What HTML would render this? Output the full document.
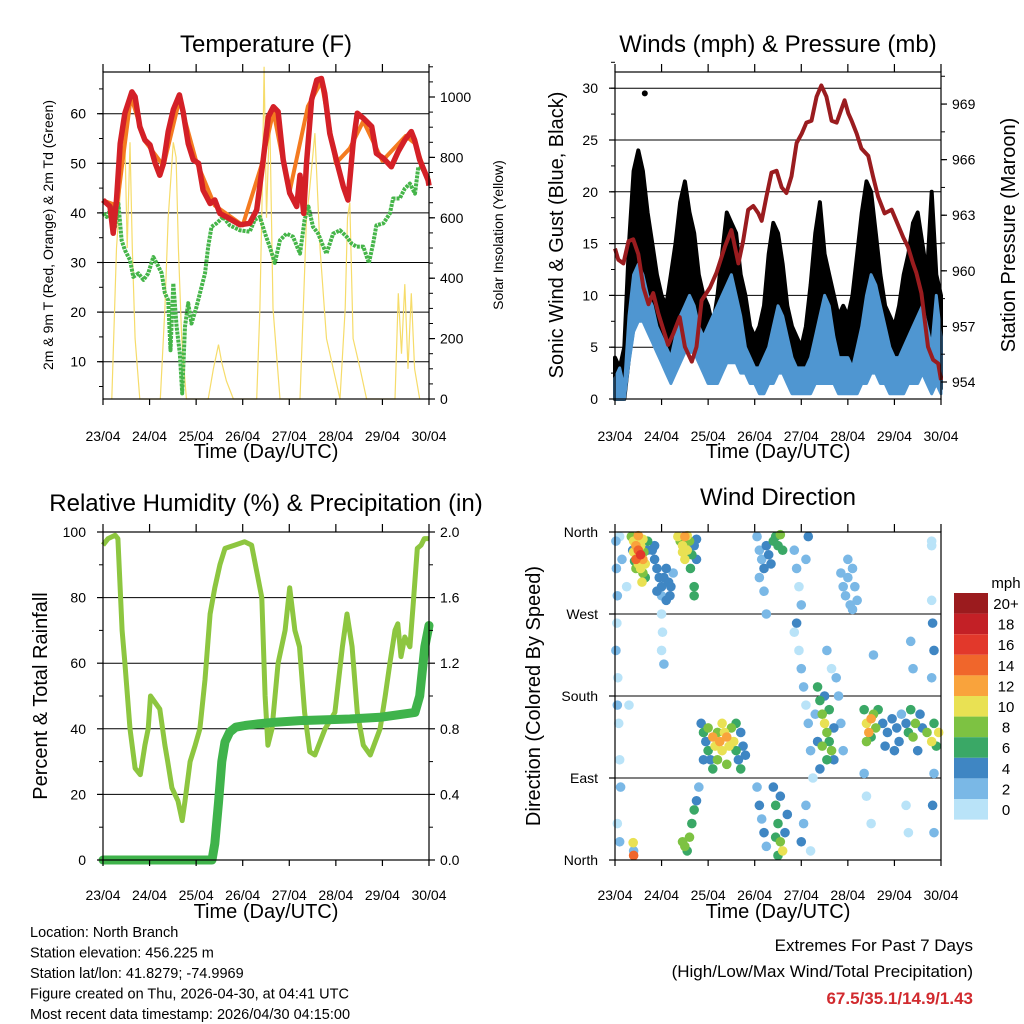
<!DOCTYPE html>
<html><head><meta charset="utf-8">
<style>
html,body{margin:0;padding:0;background:#fff;}
svg{display:block;font-family:"Liberation Sans",Arial,sans-serif;}
</style></head>
<body>
<svg id="chart" width="1024" height="1024" viewBox="0 0 1024 1024" xmlns="http://www.w3.org/2000/svg"></svg>
<script>
// ---------- DATA ----------
const dayLabels = ["23/04","24/04","25/04","26/04","27/04","28/04","29/04","30/04"];
// Temperature 2m (red)
const tempT = [0,0.15,0.22,0.29,0.37,0.47,0.62,0.69,0.79,0.90,1.01,1.12,1.22,1.30,1.40,1.51,1.64,1.72,1.83,1.94,2.05,2.15,2.30,2.40,2.51,2.65,2.94,3.15,3.30,3.44,3.55,3.66,3.76,3.87,4.01,4.16,4.23,4.31,4.37,4.48,4.59,4.69,4.76,4.87,5.01,5.16,5.26,5.37,5.46,5.59,5.77,5.87,6.02,6.19,6.34,6.48,6.62,6.69,6.80,6.98,7.0];
const tempV = [42.6,41.3,35.9,42.6,54.0,60.1,64.4,63.4,57.4,54.7,53.7,50.0,47.6,50.0,56.4,60.8,63.8,60.4,54.0,50.7,50.0,44.6,41.9,42.6,39.9,39.2,37.6,37.9,40.6,50.7,59.4,61.4,60.4,50.7,44.0,41.3,47.6,39.9,50.0,62.8,66.8,67.1,64.1,56.0,50.7,45.3,42.6,54.0,60.1,59.1,57.4,52.0,51.0,49.3,52.4,54.7,56.4,54.7,50.7,46.6,45.5];
// Temperature 9m (orange)
const temp9T = [0,0.3,0.6,0.9,1.3,1.64,2.0,2.4,3.0,3.4,3.66,4.0,4.4,4.69,5.0,5.3,5.59,6.0,6.5,6.7,7.0];
const temp9V = [42.5,41.5,63.5,54.5,49.5,62.8,50.5,41.5,37.5,49.5,60.5,44.0,61.5,66.5,50.0,53.0,58.5,50.5,55.5,54.0,46.0];
// Dewpoint (green)
const dewT = [0,0.08,0.19,0.26,0.33,0.40,0.47,0.58,0.65,0.76,0.87,0.97,1.08,1.19,1.26,1.33,1.40,1.45,1.51,1.58,1.65,1.70,1.76,1.83,1.90,2.01,2.08,2.19,2.26,2.33,2.44,2.58,2.72,2.94,3.15,3.26,3.37,3.48,3.58,3.69,3.80,3.94,4.08,4.23,4.33,4.41,4.51,4.62,4.73,4.80,4.94,5.09,5.23,5.34,5.44,5.59,5.71,5.80,5.87,6.02,6.16,6.23,6.37,6.48,6.59,6.70,6.77,6.88,6.98,7.0];
const dewV = [39.9,39.2,41.3,37.2,41.9,34.5,32.5,30.5,27.1,27.8,26.5,27.8,31.1,29.2,27.8,23.8,22.4,12.3,25.8,17.1,11.7,3.6,17.1,21.8,17.7,21.1,23.8,27.8,33.2,37.2,37.9,39.2,37.5,36.5,36.2,38.6,39.2,35.8,33.2,29.9,34.5,35.8,35.2,31.8,38.6,41.3,37.2,35.8,33.2,31.8,35.8,36.5,35.2,33.8,33.2,33.2,29.9,33.8,37.5,37.9,39.9,42.9,42.9,44.9,45.9,43.9,49.3,48.6,47.3,46.0];
// Solar insolation (yellow)
const solT = [0.19,0.29,0.40,0.47,0.52,0.58,0.63,0.69,0.79,1.23,1.33,1.40,1.51,1.57,1.62,1.69,1.79,2.26,2.37,2.48,2.55,2.65,2.80,3.30,3.37,3.42,3.46,3.51,3.58,3.65,3.80,4.23,4.30,4.37,4.44,4.55,4.66,4.80,5.09,5.20,5.25,5.30,5.37,5.52,5.66,6.27,6.34,6.41,6.48,6.55,6.62,6.69,6.80];
const solV = [0,500,750,860,500,850,500,200,0,0,300,600,850,800,500,200,0,0,100,180,120,60,0,0,300,700,1100,600,950,300,0,0,300,600,700,880,500,200,0,300,600,650,200,100,0,0,350,150,380,100,350,100,0];
// Winds: gust (black) and sustained (blue) per 0.1 day
const windLo = [0,0,0,4,7,8,8,7,6,5,4,3,2,3,4,5,5,5,4,3,2,2,2,3,4,4,4,3,3,2,2,1,1,2,2,3,3,2,1,1,1,1,1,2,2,2,2,2,1,1,1,1,1,2,2,3,3,2,2,1,1,1,1,2,2,2,3,2,1,2,1];
const gustHi = [4,3,5,15,22,24,22,18,15,12,10,9,12,15,19,21,18,16,12,10,9,7,10,14,18,17,16,12,10,7,6,7,9,14,17,16,13,9,7,6,5,7,11,16,19,14,12,10,8,9,8,10,14,18,21,20,16,12,9,8,7,9,12,14,17,18,15,12,20,12,10];
const windHi = [2,3,1,8,12,13,12,10,9,7,6,5,4,6,8,9,10,9,7,6,7,8,9,10,11,12,10,8,5,4,3,3,4,5,7,9,8,6,4,3,3,3,4,6,8,10,9,6,4,4,4,3,5,7,10,12,11,9,7,5,4,4,5,6,7,8,9,7,5,10,6];
const gustOutT = [0.64];
const gustOutV = [29.5];
// Pressure (maroon)
const presT = [0,0.07,0.18,0.29,0.39,0.50,0.61,0.72,0.82,0.93,1.14,1.25,1.39,1.50,1.65,1.75,1.86,2.04,2.18,2.36,2.50,2.65,2.75,2.86,2.97,3.08,3.15,3.25,3.36,3.47,3.58,3.68,3.79,3.90,4.01,4.11,4.22,4.33,4.43,4.54,4.65,4.76,4.86,4.93,5.01,5.08,5.19,5.29,5.44,5.54,5.65,5.79,5.94,6.04,6.19,6.29,6.40,6.47,6.58,6.72,6.83,6.94,7.0];
const presV = [961.2,960.6,960.4,961.6,961.7,960.9,959.1,958.2,958.8,957.7,956.0,956.6,957.5,955.9,955.1,955.9,958.4,959.1,959.9,961.3,962.2,960.4,961.6,963.3,963.5,963.1,962.7,964.0,965.3,965.4,964.5,964.2,965.1,966.9,967.4,968.0,968.1,969.4,970.0,969.4,968.1,968.0,968.7,969.2,968.5,968.1,967.4,966.6,966.2,965.1,964.0,963.1,963.3,962.7,961.8,961.3,960.4,959.9,958.8,955.9,955.2,955.0,954.1];
// Relative humidity
const rhT = [0,0.11,0.26,0.32,0.41,0.47,0.58,0.69,0.80,0.90,0.97,1.02,1.22,1.33,1.39,1.48,1.61,1.70,1.76,1.87,1.98,2.08,2.19,2.30,2.40,2.51,2.62,2.83,3.04,3.19,3.41,3.48,3.54,3.63,3.76,3.91,4.01,4.12,4.22,4.33,4.44,4.55,4.77,4.98,5.14,5.24,5.35,5.46,5.59,5.74,5.95,6.06,6.16,6.27,6.33,6.40,6.48,6.59,6.66,6.75,6.83,6.90,7.0];
const rhV = [96,98,99,98,70,60,40,28,26,35,40,50,46,35,30,22,18,12,18,30,35,40,55,75,83,90,95,96,97,96,80,50,35,40,60,70,83,70,65,45,33,32,40,45,65,75,65,45,35,32,40,50,60,70,72,62,68,65,78,95,96,98,98];
// Cumulative precipitation
const prT = [0,1.0,2.0,2.34,2.40,2.48,2.55,2.62,2.72,2.85,3.05,3.33,3.70,4.23,5.30,5.95,6.70,6.80,6.91,7.0];
const prV = [0,0,0,0,0.1,0.35,0.6,0.72,0.78,0.81,0.82,0.83,0.84,0.85,0.86,0.87,0.9,1.0,1.3,1.43];
// Wind direction samples: time (days), direction (deg), speed (mph)
const wdT = [.35,.4,.45,.5,.55,.6,.5,.55,.6,.65,.45,.4,.7,.7,.6,.5,.55,.62,.45,.58,.65,.38,.42,
 .8,.85,.9,.95,1.0,1.05,1.1,1.15,1.2,1.25,.9,1.0,1.1,.85,1.18,
 1.35,1.4,1.45,1.5,1.55,1.6,1.65,1.7,1.75,1.45,1.55,1.62,1.7,1.7,1.5,1.75,
 .02,.03,.05,.04,.02,.06,.05,.08,.1,.12,.05,.1,.1,.15,.25,.3,.4,.39,.4,
 1.0,1.02,1.0,1.05,
 1.85,1.9,1.95,2.0,2.05,2.1,2.15,2.2,2.25,2.3,2.35,2.4,2.45,2.5,2.55,2.6,2.65,2.7,2.75,2.8,2.0,2.2,2.4,2.6,2.3,2.7,1.9,2.1,
 1.45,1.5,1.55,1.6,1.65,1.7,1.75,1.8,
 3.05,3.1,3.15,3.2,3.25,3.3,3.35,3.4,3.45,3.5,3.55,3.6,3.1,3.2,3.25,
 3.05,3.1,3.15,3.2,3.25,3.4,3.45,3.5,3.55,3.6,3.55,3.5,3.65,3.7,3.45,
 3.85,3.9,3.95,4.0,3.9,3.85,3.95,4.0,4.05,4.1,4.15,4.2,4.25,4.1,4.05,4.0,4.2,4.15,4.1,
 4.35,4.4,4.45,4.5,4.55,4.6,4.65,4.7,4.4,4.5,4.55,4.45,4.6,4.7,4.75,4.8,4.85,4.9,4.3,4.35,
 4.85,4.9,4.95,5.0,5.05,5.1,5.15,5.2,5.0,5.1,
 5.35,5.4,5.45,5.5,5.55,5.6,5.65,5.75,5.85,5.95,6.05,6.1,6.15,6.25,6.3,6.35,6.4,6.45,6.55,6.6,6.7,6.8,6.85,6.95,6.9,5.8,6.0,6.5,5.4,5.5,
 5.35,5.4,5.5,5.55,6.25,6.3,6.35,6.4,6.8,6.8,6.82,6.85,6.8,6.85,6.82,6.85,6.8,4.55,4.65];
const wdDir = [355,350,345,340,335,330,325,320,315,310,330,338,340,350,352,356,345,338,320,305,325,340,328,
 340,330,320,310,300,310,320,305,300,315,295,290,285,345,290,
 355,350,345,355,340,350,335,345,352,338,356,320,300,290,330,330,
 350,320,290,260,230,200,170,150,110,80,40,20,355,330,300,170,10,19,5,
 270,250,230,215,
 150,140,130,120,110,135,125,140,130,120,140,135,125,145,130,120,110,100,125,115,145,110,105,150,150,140,110,100,
 20,15,10,25,40,55,65,80,
 355,340,330,320,345,335,325,350,355,345,357,340,310,295,270,
 80,60,45,30,15,80,60,40,20,10,70,5,30,50,25,
 340,320,300,280,260,250,230,210,190,170,150,120,90,60,40,20,10,355,330,
 190,175,160,150,140,130,120,110,100,180,110,125,165,145,200,180,150,120,160,130,
 315,300,290,310,280,320,300,285,330,275,
 165,150,140,155,160,145,165,150,140,155,145,130,160,150,140,165,135,150,160,145,140,130,150,140,125,125,120,120,130,135,
 95,70,40,225,60,30,240,210,350,285,260,230,200,95,60,30,345,230,210];
const wdSpd = [8,10,12,14,16,12,10,10,8,6,14,10,4,6,10,12,10,8,8,10,10,4,6,
 4,4,4,4,4,4,4,4,4,2,4,2,4,4,4,
 10,8,10,12,10,8,6,4,4,10,10,6,6,6,10,4,
 2,2,2,0,2,0,2,0,0,2,0,2,0,2,0,0,2,10,14,
 0,0,0,2,
 4,6,4,6,4,12,10,8,12,10,10,12,10,8,10,6,4,6,4,4,8,8,8,6,10,4,4,6,
 8,8,6,8,6,6,4,2,
 2,2,2,4,4,4,4,6,6,6,8,6,2,2,2,
 2,4,2,4,2,4,6,6,8,10,4,6,4,4,6,
 2,2,0,2,4,0,0,2,2,0,2,2,0,2,2,4,0,4,2,
 6,6,8,10,8,6,8,4,4,4,6,8,6,4,2,2,2,2,2,4,
 2,2,2,2,2,2,2,2,2,2,
 6,10,12,12,8,8,6,4,4,4,4,4,2,4,6,6,8,8,4,4,8,10,6,10,6,4,4,4,8,6,
 2,0,0,2,0,0,2,2,0,0,4,4,2,2,4,2,0,2,0];
const legendLabels = ["20+","18","16","14","12","10","8","6","4","2","0"];
const legendColors = ["#9b1b1e","#c32026","#e2382b","#f0662b","#f9a33c","#e9e153","#7dc242","#3aa866","#3f86c3","#7ab8e6","#b9e3f8"];

// ---------- SCALES ----------
const DAY = 46.57;
const x1 = t => 103 + t*DAY;
const x2 = t => 615 + t*DAY;
const yT = v => 411.3 - v*4.96;
const ySol = w => 399 - w*0.302;
const yW = v => 399 - v*10.36;
const yP = mb => 382 - (mb-954)*18.53;
const yRH = v => 860 - v*3.28;
const yPr = v => 860 - v*164;
const yD = d => 860 - d*0.9111;

const svg = document.getElementById('chart');
const NS = "http://www.w3.org/2000/svg";
function mk(tag, attrs, parent){
  const e = document.createElementNS(NS, tag);
  for (const k in attrs) e.setAttribute(k, attrs[k]);
  (parent||svg).appendChild(e);
  return e;
}
function txt(x,y,s,size,anchor,parent,extra){
  const e = mk('text',Object.assign({x:x,y:y,'font-size':size,'text-anchor':anchor||'middle',fill:'#000'},extra||{}),parent);
  e.textContent = s;
  return e;
}
function pts(ts,vs,fx,fy){ return ts.map((t,i)=>fx(Math.min(7,t)).toFixed(1)+','+fy(vs[i]).toFixed(1)).join(' '); }

function panel(name){
  const g = mk('g',{});
  
  
  return g;
}
function frame(g, L, T, R, B){
  const f = mk('rect',{x:L,y:T,width:R-L,height:B-T,fill:'none',stroke:'#000','stroke-width':1.2},g);
  
  
}
function xAxis(g, fx, T, B, ly, ty){
  for (let i=0;i<dayLabels.length;i++){
    const x = fx(i);
    const tk = mk('path',{d:`M${x},${B}v6M${x},${T}v-8`,stroke:'#000','stroke-width':1.2},g);
    
    
    const l = txt(x, ly, dayLabels[i], 14, 'middle', g);
    
    
  }
  const tt = txt(fx(3.5), ty, 'Time (Day/UTC)', 20, 'middle', g);
  
  
}
function grid(g, L, R, ys){
  ys.forEach(y=>{
    const ln = mk('line',{x1:L,x2:R,y1:y,y2:y,stroke:'#000','stroke-width':1},g);
    
    
  });
}
function yTicks(g, side, xEdge, vals, fy, labels, minorVals, labelX, anchor){
  const dir = side==='left' ? -1 : 1;
  vals.forEach((v,i)=>{
    const y = fy(v);
    const tk = mk('line',{x1:xEdge,x2:xEdge+dir*6,y1:y,y2:y,stroke:'#000','stroke-width':1.2},g);
    
    
    const l = txt(labelX, y+5, labels[i], 14, anchor, g);
    
    
  });
  (minorVals||[]).forEach(v=>{
    const y = fy(v);
    const tk = mk('line',{x1:xEdge,x2:xEdge+dir*4,y1:y,y2:y,stroke:'#000','stroke-width':1},g);
    
    
  });
}
function vtitle(g, x, y, s, size){
  return txt(0,0,s,size,'middle',g,{transform:`translate(${x},${y}) rotate(-90)`});
}
function range(a,b,s){ const r=[]; for(let v=a; v<=b+1e-9; v+=s) r.push(+v.toFixed(3)); return r; }
function band(lo, hi, fx, fy){
  const top = hi.map((v,i)=>fx(i*0.1).toFixed(1)+','+fy(v).toFixed(1));
  const bot = lo.map((v,i)=>fx(i*0.1).toFixed(1)+','+fy(v).toFixed(1)).reverse();
  return top.concat(bot).join(' ');
}

// ---------- PANEL 1: TEMPERATURE ----------
(function(){
  const L=103,T=72,R=429,B=399;
  const g = panel('temperature-panel');
  const tl = txt(266, 52, 'Temperature (F)', 24, 'middle', g);
  
  
  grid(g, L, R, [10,20,30,40,50,60].map(yT));
  const sol = mk('polyline',{points:pts(solT,solV,x1,ySol),fill:'none',stroke:'#f6dc6a','stroke-width':1.2},g);
  
  
  const dew = mk('polyline',{points:pts(dewT,dewV,x1,yT),fill:'none',stroke:'#45b549','stroke-width':4,'stroke-dasharray':'3 1','stroke-linejoin':'round'},g);
  
  
  const t9 = mk('polyline',{points:pts(temp9T,temp9V,x1,yT),fill:'none',stroke:'#f47b20','stroke-width':4,'stroke-linejoin':'round'},g);
  
  
  const t2 = mk('polyline',{points:pts(tempT,tempV,x1,yT),fill:'none',stroke:'#d42027','stroke-width':5.5,'stroke-linejoin':'round'},g);
  
  
  frame(g,L,T,R,B);
  xAxis(g, x1, T, B, 441, 458);
  yTicks(g,'left',L,[10,20,30,40,50,60],yT,['10','20','30','40','50','60'],range(5,65,5),86,'end');
  yTicks(g,'right',R,[0,200,400,600,800,1000],ySol,['0','200','400','600','800','1000'],range(50,1100,50),440,'start');
  const yl = vtitle(g, 53, 235, '2m & 9m T (Red, Orange) & 2m Td (Green)', 14);
  
  
  const yr = vtitle(g, 503, 235, 'Solar Insolation (Yellow)', 14);
  
  
})();

// ---------- PANEL 2: WINDS & PRESSURE ----------
(function(){
  const L=615,T=72,R=941,B=399;
  const g = panel('winds-panel');
  const tl = txt(778, 52, 'Winds (mph) & Pressure (mb)', 24, 'middle', g);
  
  
  grid(g, L, R, [5,10,15,20,25,30].map(yW));
  const gb = mk('polygon',{points:band(windLo,gustHi,x2,yW),fill:'#000',stroke:'#000','stroke-width':4,'stroke-linejoin':'round'},g);
  
  
  gustOutT.forEach((t,i)=>{
    const c = mk('circle',{cx:x2(t),cy:yW(gustOutV[i]),r:3,fill:'#000'},g);
    
    
  });
  const wb = mk('polygon',{points:band(windLo.map(v=>Math.max(0,v-0.5)),windHi,x2,yW),fill:'#4f96d1',stroke:'#4f96d1','stroke-width':3,'stroke-linejoin':'round'},g);
  
  
  const p = mk('polyline',{points:pts(presT,presV,x2,yP),fill:'none',stroke:'#9a1c1f','stroke-width':4,'stroke-linejoin':'round'},g);
  
  
  frame(g,L,T,R,B);
  xAxis(g, x2, T, B, 441, 458);
  yTicks(g,'left',L,[0,5,10,15,20,25,30],yW,['0','5','10','15','20','25','30'],range(2.5,32.5,2.5),598,'end');
  yTicks(g,'right',R,[954,957,960,963,966,969],yP,['954','957','960','963','966','969'],range(955.5,970.5,1.5),952,'start');
  const yl = vtitle(g, 563, 235, 'Sonic Wind & Gust (Blue, Black)', 20);
  
  
  const yr = vtitle(g, 1015, 235, 'Station Pressure (Maroon)', 20);
  
  
})();

// ---------- PANEL 3: RH & PRECIP ----------
(function(){
  const L=103,T=532,R=429,B=860;
  const g = panel('humidity-panel');
  const tl = txt(266, 511, 'Relative Humidity (%) & Precipitation (in)', 24, 'middle', g);
  
  
  grid(g, L, R, [20,40,60,80].map(yRH));
  const rh = mk('polyline',{points:pts(rhT,rhV,x1,yRH),fill:'none',stroke:'#8dc640','stroke-width':5,'stroke-linejoin':'round'},g);
  
  
  const pr = mk('polyline',{points:pts(prT,prV,x1,yPr),fill:'none',stroke:'#3fb34b','stroke-width':9,'stroke-linejoin':'round','stroke-linecap':'round'},g);
  
  
  frame(g,L,T,R,B);
  xAxis(g, x1, T, B, 900, 918);
  yTicks(g,'left',L,[0,20,40,60,80,100],yRH,['0','20','40','60','80','100'],range(10,90,20),86,'end');
  yTicks(g,'right',R,[0,0.4,0.8,1.2,1.6,2.0],yPr,['0.0','0.4','0.8','1.2','1.6','2.0'],range(0.2,1.8,0.4),440,'start');
  const yl = vtitle(g, 47, 696, 'Percent & Total Rainfall', 20);
  
  
})();

// ---------- PANEL 4: WIND DIRECTION ----------
(function(){
  const L=615,T=532,R=941,B=860;
  const g = panel('wind-direction-panel');
  const tl = txt(778, 505, 'Wind Direction', 24, 'middle', g);
  
  
  grid(g, L, R, [90,180,270].map(yD));
  const colorFor = s => legendColors[10 - Math.min(10, Math.floor((s+1)/2))];
  const order = wdT.map((t,i)=>i).sort((a,b)=>wdSpd[a]-wdSpd[b]);
  order.forEach(i=>{
    const c = mk('circle',{cx:x2(wdT[i]),cy:yD(wdDir[i]),r:4.8,fill:colorFor(wdSpd[i])},g);
    
    
  });
  frame(g,L,T,R,B);
  xAxis(g, x2, T, B, 900, 918);
  yTicks(g,'left',L,[0,90,180,270,360],yD,['North','East','South','West','North'],[],598,'end');
  const yl = vtitle(g, 540, 696, 'Direction (Colored By Speed)', 20);
  
  
  const lg = mk('g',{},g);
  
  
  const lt = txt(1006, 588, 'mph', 15, 'middle', lg);
  
  
  legendLabels.forEach((s,i)=>{
    const y = 593 + i*20.6;
    const r = mk('rect',{x:954,y:y,width:34,height:20.6,fill:legendColors[i]},lg);
    
    
    const l = txt(1006, y+16, s, 15, 'middle', lg);
    
    
  });
})();

// ---------- FOOTER TEXT ----------
(function(){
  const g = mk('g',{});
  
  
  const lines = ["Location: North Branch","Station elevation: 456.225 m","Station lat/lon: 41.8279; -74.9969","Figure created on Thu, 2026-04-30, at 04:41 UTC","Most recent data timestamp: 2026/04/30 04:15:00"];
  lines.forEach((s,i)=>{
    const t = txt(30, 937 + i*20.5, s, 14.5, 'start', g);
    
    
  });
  const e = mk('g',{});
  
  
  const a = txt(973, 951, 'Extremes For Past 7 Days', 17, 'end', e);
  
  
  const b = txt(973, 977, '(High/Low/Max Wind/Total Precipitation)', 17, 'end', e);
  
  
  const c = txt(973, 1004, '67.5/35.1/14.9/1.43', 17, 'end', e, {fill:'#d12a2e','font-weight':'bold'});
  
  
})();
</script>
</body></html>
